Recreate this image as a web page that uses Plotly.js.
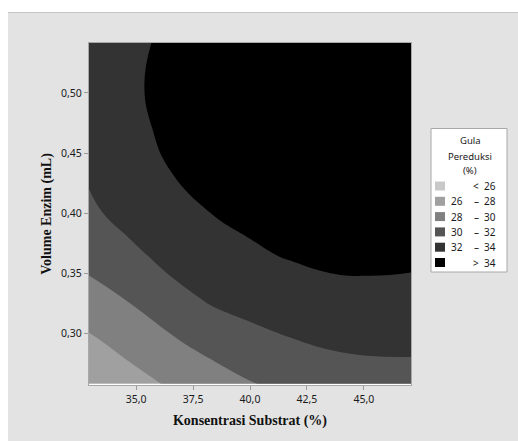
<!DOCTYPE html>
<html>
<head>
<meta charset="utf-8">
<script src="https://cdn.plot.ly/plotly-3.0.1.min.js"></script>
<style>html,body{margin:0;padding:0;background:#fff;}#chart{width:518px;height:441px;}</style>
</head>
<body>
<div id="chart"></div>
<script>
// Grid of the contour surface
const konsentrasi = [32.93, 34.70, 36.46, 38.23, 40.00, 41.77, 43.54, 45.30, 47.07];
const volumeEnzim = [0.2586, 0.2939, 0.3293, 0.3646, 0.4000, 0.4354, 0.4707, 0.5061, 0.5414];
const gulaRow0 = [26.30, 27.26, 28.20, 28.90, 29.90, 30.45, 30.90, 31.14, 31.22];
const gulaRow1 = [27.68, 28.70, 29.70, 30.76, 31.40, 31.90, 32.29, 32.46, 32.46];
const gulaRow2 = [29.30, 30.13, 31.28, 32.21, 32.72, 33.10, 33.44, 33.51, 33.45];
const gulaRow3 = [30.60, 31.48, 32.59, 33.35, 33.75, 34.11, 34.38, 34.43, 34.35];
const gulaRow4 = [31.60, 32.74, 33.44, 33.99, 34.37, 34.70, 35.00, 35.05, 34.95];
const gulaRow5 = [32.30, 33.25, 33.99, 34.35, 34.65, 35.10, 35.45, 35.50, 35.40];
const gulaRow6 = [32.70, 33.60, 34.30, 34.60, 34.85, 35.35, 35.75, 35.80, 35.70];
const gulaRow7 = [32.78, 33.70, 34.50, 34.80, 35.00, 35.50, 35.90, 35.95, 35.85];
const gulaRow8 = [32.57, 33.45, 34.45, 34.90, 35.10, 35.55, 35.95, 36.00, 35.90];

// Contour levels and legend
const levelStart = 26, levelEnd = 34, levelSize = 2;
const bandColors = ['#c8c8c8', '#a0a0a0', '#808080', '#555555', '#333333', '#000000'];
const bandLeft = ['', '26', '28', '30', '32', ''];
const bandMid = ['<', '–', '–', '–', '–', '>'];
const bandRight = ['26', '28', '30', '32', '34', '34'];
const xTicks = [35, 37.5, 40, 42.5, 45];
const yTicks = [0.30, 0.35, 0.40, 0.45, 0.50];

const gula = [gulaRow0, gulaRow1, gulaRow2, gulaRow3, gulaRow4, gulaRow5, gulaRow6, gulaRow7, gulaRow8];

const W = 518, H = 441;
const L = 89, R = 107, T = 43, B = 56;
const pw = W - L - R, ph = H - T - B;
const px = v => (v - L) / pw;
const py = v => (H - B - v) / ph;

const colorscale = bandColors.map((c, i) => [i / (bandColors.length - 1), c]);

const trace = {
  type: 'contour',
  x: konsentrasi,
  y: volumeEnzim,
  z: gula,
  autocontour: false,
  contours: {start: levelStart, end: levelEnd, size: levelSize, coloring: 'fill'},
  colorscale: colorscale,
  showscale: false,
  line: {width: 0, smoothing: 1.3},
  hoverinfo: 'skip'
};

const shapes = [
  // white margins of the screenshot
  {type: 'rect', xref: 'paper', yref: 'paper', x0: px(-20), x1: px(W + 20), y0: py(12), y1: py(-20), fillcolor: '#ffffff', line: {width: 0}, layer: 'below'},
  {type: 'rect', xref: 'paper', yref: 'paper', x0: px(-20), x1: px(8), y0: py(H + 20), y1: py(-20), fillcolor: '#ffffff', line: {width: 0}, layer: 'below'},
  {type: 'line', xref: 'paper', yref: 'paper', x0: px(8), x1: px(W + 20), y0: py(12.5), y1: py(12.5), line: {color: '#c4c4c4', width: 1}, layer: 'below'},
  // legend box
  {type: 'rect', xref: 'paper', yref: 'paper', x0: px(431), x1: px(507), y0: py(272), y1: py(128.5), fillcolor: '#ffffff', line: {color: '#a8a8a8', width: 1}}
];
const titleFont = {family: 'Noto Sans', size: 9.5, color: '#1a1a1a'};
const annotations = [
  {text: 'Gula', x: px(470), y: py(140), xref: 'paper', yref: 'paper', showarrow: false, xanchor: 'center', yanchor: 'middle', font: titleFont},
  {text: 'Pereduksi', x: px(470), y: py(156), xref: 'paper', yref: 'paper', showarrow: false, xanchor: 'center', yanchor: 'middle', font: titleFont},
  {text: '(%)', x: px(470), y: py(170.5), xref: 'paper', yref: 'paper', showarrow: false, xanchor: 'center', yanchor: 'middle', font: titleFont}
];
bandColors.forEach((c, i) => {
  const cy = 186 + i * 15.3;
  shapes.push({type: 'rect', xref: 'paper', yref: 'paper', x0: px(435), x1: px(445), y0: py(cy + 4.5), y1: py(cy - 4.5), fillcolor: c, line: {width: 0}});
  const f = {family: 'Noto Sans', size: 10, color: '#1a1a1a'};
  if (bandLeft[i]) annotations.push({text: bandLeft[i], x: px(449), y: py(cy), xref: 'paper', yref: 'paper', showarrow: false, xanchor: 'left', yanchor: 'middle', font: f});
  annotations.push({text: bandMid[i], x: px(476), y: py(cy), xref: 'paper', yref: 'paper', showarrow: false, xanchor: 'center', yanchor: 'middle', font: f});
  annotations.push({text: bandRight[i], x: px(482), y: py(cy), xref: 'paper', yref: 'paper', showarrow: false, xanchor: 'left', yanchor: 'middle', font: f});
});

const layout = {
  width: W, height: H,
  margin: {l: L, r: R, t: T, b: B, pad: 0},
  paper_bgcolor: '#e3e3e3',
  plot_bgcolor: '#ffffff',
  separators: ',.',
  showlegend: false,
  xaxis: {
    range: [32.93, 47.07],
    tickvals: xTicks, tickformat: '.1f',
    ticks: 'outside', ticklen: 4, tickcolor: '#9a9a9a',
    showline: true, linecolor: '#a8a8a8', mirror: true, linewidth: 1,
    showgrid: false, zeroline: false,
    tickfont: {family: 'Noto Sans', size: 10.5, color: '#1a1a1a'},
    title: {text: 'Konsentrasi Substrat (%)', standoff: 10, font: {family: 'Liberation Serif', size: 14, color: '#111', weight: 'bold'}}
  },
  yaxis: {
    range: [0.2575, 0.5414],
    tickvals: yTicks, tickformat: '.2f',
    ticks: 'outside', ticklen: 4, tickcolor: '#9a9a9a',
    showline: true, linecolor: '#a8a8a8', mirror: true, linewidth: 1,
    showgrid: false, zeroline: false,
    tickfont: {family: 'Noto Sans', size: 10.5, color: '#1a1a1a'},
    title: {text: 'Volume Enzim (mL)', standoff: 6, font: {family: 'Liberation Serif', size: 14, color: '#111', weight: 'bold'}}
  },
  shapes: shapes,
  annotations: annotations
};

Plotly.newPlot('chart', [trace], layout, {displayModeBar: false, staticPlot: true});
</script>
</body>
</html>
